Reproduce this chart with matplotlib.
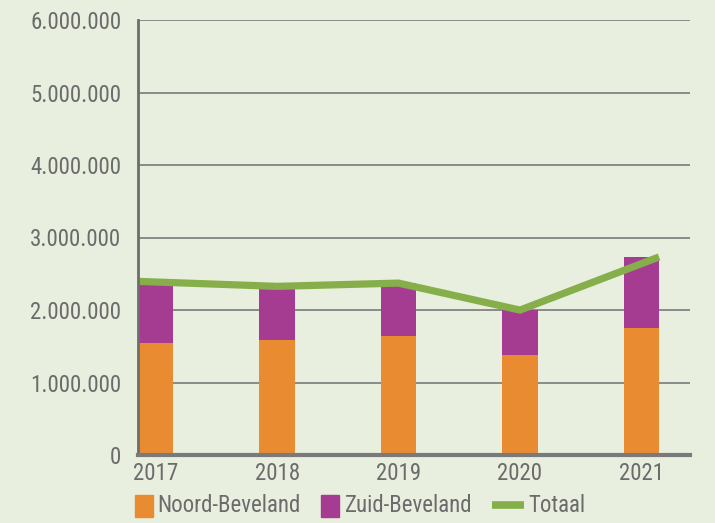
import matplotlib
matplotlib.use("Agg")
import matplotlib.pyplot as plt
import numpy as np
from matplotlib.patches import Rectangle
from matplotlib.lines import Line2D
from matplotlib.ticker import FuncFormatter

years = ["2017", "2018", "2019", "2020", "2021"]
noord_beveland = [1545000, 1586000, 1641000, 1379000, 1752000]
zuid_beveland = [850000, 740000, 730000, 620000, 980000]
totaal = [2395000, 2326000, 2371000, 1999000, 2732000]
y_ticks = [0, 1000000, 2000000, 3000000, 4000000, 5000000, 6000000]
series_labels = ["Noord-Beveland", "Zuid-Beveland", "Totaal"]

BG = "#E8EFDF"
ORANGE = "#E98C31"
PURPLE = "#A63C92"
GREEN = "#86AF4B"
TXT = "#6B6B6B"
FONT = ["Roboto Condensed", "DejaVu Sans"]
plt.rcParams["font.family"] = FONT
FS = 16.5
W, H = 715, 523

fig = plt.figure(figsize=(W/100, H/100), dpi=100, facecolor=BG)
ax = fig.add_axes([138/W, 1-455/H, (690-138)/W, (455-20)/H])
ax.set_facecolor(BG)

x = np.arange(len(years))
w = 0.29
ax.bar(x, noord_beveland, width=w, color=ORANGE, zorder=3)
ax.bar(x, zuid_beveland, width=w, bottom=noord_beveland, color=PURPLE, zorder=3)
lx = x.astype(float)
lx[0] -= w/2
lx[-1] += w/2
ax.plot(lx, totaal, color=GREEN, lw=5.2, zorder=4, solid_capstyle="butt", solid_joinstyle="miter")

ax.set_xlim(-w/2, 4.4)
ax.set_ylim(0, 6000000)
ax.set_yticks(y_ticks)
ax.yaxis.set_major_formatter(FuncFormatter(lambda v, p: "0" if v == 0 else f"{int(v):,}".replace(",", ".")))
ax.set_xticks(x)
ax.set_xticklabels(years)
ax.tick_params(axis="both", length=0, labelsize=FS, labelcolor=TXT)
ax.tick_params(axis="y", pad=12)
ax.tick_params(axis="x", pad=5)
ax.grid(axis="y", color="#8A8A8A", lw=1.4, zorder=1)
for s in ["top", "right"]:
    ax.spines[s].set_visible(False)
ax.spines["left"].set_color("#6D6D6D")
ax.spines["left"].set_linewidth(2)
ax.spines["bottom"].set_color("#7A7A7A")
ax.spines["bottom"].set_linewidth(3)
ax.spines["left"].set_zorder(5)
ax.spines["bottom"].set_zorder(5)

# legend (manual, in figure pixels)
yc = 1 - 506/H
fig.add_artist(Rectangle((135/W, 1-517/H), 18/W, 22/H, transform=fig.transFigure, color=ORANGE))
fig.text(157/W, yc, series_labels[0], color=TXT, fontsize=FS, va="center", ha="left")
fig.add_artist(Rectangle((321/W, 1-517/H), 18/W, 22/H, transform=fig.transFigure, color=PURPLE))
fig.text(345/W, yc, series_labels[1], color=TXT, fontsize=FS, va="center", ha="left")
fig.add_artist(Line2D([492/W, 524/W], [1-505/H, 1-505/H], transform=fig.transFigure, color=GREEN,
                      lw=5.5, solid_capstyle="butt"))
fig.text(528/W, yc, series_labels[2], color=TXT, fontsize=FS, va="center", ha="left")

fig.savefig("out.png", dpi=100, facecolor=BG)
